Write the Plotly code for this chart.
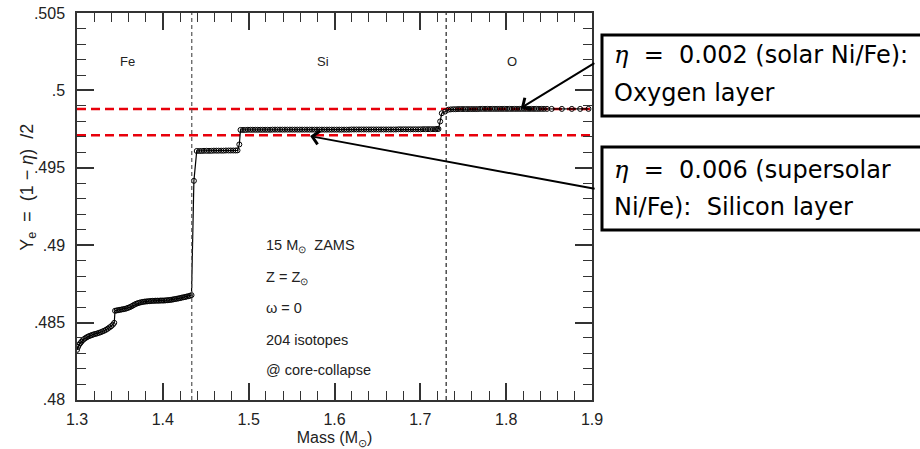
import plotly.graph_objects as go

# ---------------- data ----------------
mass_fe = [1.3000, 1.3012, 1.3024, 1.3038, 1.3052, 1.3068, 1.3084, 1.3100, 1.3118, 1.3136,
           1.3155, 1.3174, 1.3193, 1.3213, 1.3233, 1.3254, 1.3275, 1.3296, 1.3317, 1.3338,
           1.3358, 1.3378, 1.3398, 1.3418, 1.3434, 1.3443, 1.3462, 1.3481, 1.3500, 1.3519,
           1.3538, 1.3557, 1.3576, 1.3595, 1.3614, 1.3633, 1.3652, 1.3671, 1.3690, 1.3709,
           1.3728, 1.3747, 1.3766, 1.3785, 1.3804, 1.3823, 1.3842, 1.3861, 1.3880, 1.3899,
           1.3918, 1.3937, 1.3956, 1.3975, 1.3994, 1.4013, 1.4032, 1.4051, 1.4070, 1.4089,
           1.4108, 1.4127, 1.4146, 1.4165, 1.4184, 1.4203, 1.4222, 1.4241, 1.4260, 1.4279,
           1.4298, 1.4316, 1.4334]
ye_fe = [0.48323, 0.48342, 0.48356, 0.48366, 0.48376, 0.48386, 0.48394, 0.48400, 0.48406, 0.48411,
         0.48415, 0.48419, 0.48423, 0.48426, 0.48429, 0.48433, 0.48437, 0.48442, 0.48447, 0.48453,
         0.48460, 0.48468, 0.48476, 0.48486, 0.48498, 0.48576, 0.48578, 0.48580, 0.48582, 0.48584,
         0.48586, 0.48588, 0.48591, 0.48595, 0.48599, 0.48604, 0.48610, 0.48616, 0.48621, 0.48625,
         0.48628, 0.48631, 0.48633, 0.48635, 0.48636, 0.48637, 0.48638, 0.48639, 0.48640, 0.48640,
         0.48641, 0.48641, 0.48641, 0.48642, 0.48642, 0.48642, 0.48643, 0.48644, 0.48645, 0.48646,
         0.48648, 0.48650, 0.48652, 0.48654, 0.48656, 0.48658, 0.48661, 0.48663, 0.48665, 0.48668,
         0.48670, 0.48673, 0.48677]

mass_inner_si = [1.4362, 1.4395, 1.4425, 1.4452, 1.4480, 1.4510, 1.4538, 1.4566, 1.4595, 1.4623,
                 1.4650, 1.4680, 1.4708, 1.4735, 1.4765, 1.4792, 1.4820, 1.4848, 1.4870, 1.4891]
ye_inner_si = [0.49416, 0.49609, 0.49609, 0.49609, 0.49610, 0.49610, 0.49610, 0.49610, 0.49611, 0.49611,
               0.49611, 0.49611, 0.49611, 0.49612, 0.49612, 0.49612, 0.49612, 0.49612, 0.49613, 0.49651]

mass_si = [1.4905, 1.4934, 1.4962, 1.4991, 1.5020, 1.5048, 1.5077, 1.5106, 1.5135, 1.5163,
           1.5192, 1.5221, 1.5250, 1.5278, 1.5307, 1.5336, 1.5365, 1.5393, 1.5422, 1.5451,
           1.5480, 1.5508, 1.5537, 1.5566, 1.5595, 1.5623, 1.5652, 1.5681, 1.5710, 1.5738,
           1.5767, 1.5796, 1.5825, 1.5853, 1.5882, 1.5911, 1.5940, 1.5968, 1.5997, 1.6026,
           1.6055, 1.6083, 1.6112, 1.6141, 1.6170, 1.6198, 1.6227, 1.6256, 1.6285, 1.6313,
           1.6342, 1.6371, 1.6400, 1.6428, 1.6457, 1.6486, 1.6515, 1.6543, 1.6572, 1.6601,
           1.6630, 1.6658, 1.6687, 1.6716, 1.6745, 1.6773, 1.6802, 1.6831, 1.6860, 1.6888,
           1.6917, 1.6946, 1.6975, 1.7003, 1.7032, 1.7061, 1.7090, 1.7118, 1.7147, 1.7176,
           1.7195, 1.7211]
ye_si = [0.49745, 0.49745, 0.49745, 0.49746, 0.49746, 0.49746, 0.49746, 0.49746, 0.49746, 0.49746,
         0.49746, 0.49746, 0.49746, 0.49747, 0.49747, 0.49747, 0.49747, 0.49747, 0.49747, 0.49747,
         0.49747, 0.49747, 0.49747, 0.49747, 0.49747, 0.49747, 0.49747, 0.49747, 0.49747, 0.49747,
         0.49747, 0.49747, 0.49747, 0.49747, 0.49747, 0.49747, 0.49747, 0.49747, 0.49747, 0.49747,
         0.49747, 0.49747, 0.49747, 0.49747, 0.49747, 0.49748, 0.49748, 0.49748, 0.49748, 0.49748,
         0.49748, 0.49748, 0.49748, 0.49748, 0.49748, 0.49748, 0.49748, 0.49748, 0.49748, 0.49748,
         0.49748, 0.49748, 0.49748, 0.49748, 0.49749, 0.49749, 0.49749, 0.49749, 0.49749, 0.49749,
         0.49749, 0.49749, 0.49749, 0.49749, 0.49750, 0.49750, 0.49750, 0.49750, 0.49750, 0.49750,
         0.49751, 0.49751]

mass_o = [1.7231, 1.7250, 1.7289, 1.7327, 1.7355, 1.7384, 1.7412, 1.7440, 1.7469, 1.7497,
          1.7526, 1.7554, 1.7583, 1.7611, 1.7640, 1.7668, 1.7697, 1.7725, 1.7754, 1.7782,
          1.7811, 1.7839, 1.7868, 1.7896, 1.7925, 1.7953, 1.7982, 1.8010, 1.8039, 1.8067,
          1.8096, 1.8124, 1.8153, 1.8181, 1.8210, 1.8238, 1.8267, 1.8295, 1.8324, 1.8352,
          1.8381, 1.8410, 1.8440, 1.8475, 1.8530, 1.8649, 1.8765, 1.8862, 1.8959]
ye_o = [0.49800, 0.49853, 0.49864, 0.49876, 0.49878, 0.49879, 0.49879, 0.49880, 0.49880, 0.49880,
        0.49880, 0.49880, 0.49880, 0.49880, 0.49880, 0.49880, 0.49881, 0.49881, 0.49881, 0.49881,
        0.49881, 0.49881, 0.49881, 0.49881, 0.49881, 0.49881, 0.49881, 0.49881, 0.49881, 0.49881,
        0.49881, 0.49881, 0.49881, 0.49881, 0.49881, 0.49881, 0.49881, 0.49881, 0.49881, 0.49881,
        0.49881, 0.49881, 0.49881, 0.49881, 0.49881, 0.49881, 0.49881, 0.49881, 0.49881]

eta_ye_levels = [0.4988, 0.4971]          # Ye for eta = 0.002 and eta = 0.006
layer_boundaries = [1.4337, 1.7301]       # Fe/Si and Si/O boundaries
layer_names = ["Fe", "Si", "O"]
layer_label_mass = [1.359, 1.587, 1.8066]

x_ticks = [1.3, 1.4, 1.5, 1.6, 1.7, 1.8, 1.9]
x_ticktext = ["1.3", "1.4", "1.5", "1.6", "1.7", "1.8", "1.9"]
y_ticks = [0.48, 0.485, 0.49, 0.495, 0.5, 0.505]
y_ticktext = [".48", ".485", ".49", ".495", ".5", ".505"]

info_lines = ["15 M<sub>⊙</sub>  ZAMS", "Z = Z<sub>⊙</sub>", "ω = 0", "204 isotopes", "@ core-collapse"]
info_ye = [0.48994, 0.48785, 0.48591, 0.48390, 0.48190]

# ---------------- figure ----------------
mass = mass_fe + mass_inner_si + mass_si + mass_o
ye = ye_fe + ye_inner_si + ye_si + ye_o

FONT = "Liberation Sans, Arial, Helvetica, sans-serif"
BOXFONT = "DejaVu Sans, sans-serif"

fig = go.Figure()

for lvl in eta_ye_levels:
    fig.add_trace(go.Scatter(x=[1.3, 1.9], y=[lvl, lvl], mode="lines",
                             line=dict(color="#e8000b", width=2.5, dash="9px,5px"),
                             hoverinfo="skip", showlegend=False))

fig.add_trace(go.Scatter(x=mass, y=ye, mode="lines+markers",
                         line=dict(color="black", width=1.2),
                         marker=dict(symbol="circle-open", size=5, color="black",
                                     line=dict(width=1, color="black")),
                         showlegend=False))

for i, xb in enumerate(layer_boundaries):
    fig.add_shape(type="line", x0=xb, x1=xb, y0=0, y1=1, xref="x", yref="paper",
                  line=dict(color="#555555" if i == 0 else "#222222", width=1.2, dash="4px,3px"),
                  layer="above")

for name, xm in zip(layer_names, layer_label_mass):
    fig.add_annotation(x=xm, y=0.50187, text=name, showarrow=False,
                       font=dict(family=FONT, size=13, color="#222"))

for txt, yv in zip(info_lines, info_ye):
    fig.add_annotation(x=1.5180, y=yv, text=txt, showarrow=False, xanchor="left",
                       font=dict(family=FONT, size=14.5, color="#222"))

# y-axis title (placed as rotated text, like the reference)
fig.add_annotation(x=-0.122, y=0.55, xref="paper", yref="paper", showarrow=False,
                   text="Y<sub>e</sub>  =  (1 − <i>η</i>)  /2", textangle=-90,
                   font=dict(family=FONT, size=18, color="#222"))

# boxes (extend beyond the right edge of the figure)
box_specs = [(0.7339, 0.9432), (0.4393, 0.6537)]
for y0, y1 in box_specs:
    fig.add_shape(type="rect", xref="paper", yref="paper", x0=1.0194, x1=1.80,
                  y0=y0, y1=y1, line=dict(color="black", width=3), fillcolor="white",
                  layer="above")

ETA = '<span style="font-family:DejaVu Serif"><i>η</i></span>'
box_lines = [(ETA + "  =  0.002 (solar Ni/Fe):", 0.8915),
             ("Oxygen layer", 0.7933),
             (ETA + "  =  0.006 (supersolar", 0.5943),
             ("Ni/Fe):  Silicon layer", 0.4987)]
for txt, yp in box_lines:
    fig.add_annotation(x=1.0388, y=yp, xref="paper", yref="paper", text=txt,
                       showarrow=False, xanchor="left", yanchor="middle",
                       font=dict(family=BOXFONT, size=24, color="black"))

# arrows
arrow_specs = [(1.8171, 0.49886, 75, -46), (1.5716, 0.49705, 286, 53)]
for xh, yh, axp, ayp in arrow_specs:
    fig.add_annotation(x=xh, y=yh, text="", showarrow=True, ax=axp, ay=ayp,
                       arrowhead=4, arrowsize=1.3, arrowwidth=2, arrowcolor="black")

fig.update_layout(
    width=920, height=449,
    margin=dict(l=77, r=328, t=13, b=49, autoexpand=False),
    paper_bgcolor="white", plot_bgcolor="white",
    font=dict(family=FONT, size=15, color="#222"),
)
fig.update_xaxes(range=[1.3, 1.9], tickvals=x_ticks, ticktext=x_ticktext,
                 ticks="inside", ticklen=17, tickwidth=1.5, tickcolor="#333",
                 minor=dict(ticks="inside", ticklen=9, tickwidth=1.2, tickcolor="#333",
                            dtick=0.02, tick0=1.3, showgrid=False),
                 showline=True, linewidth=1.5, linecolor="#333", mirror="allticks",
                 showgrid=False, zeroline=False, ticklabelstandoff=4,
                 tickfont=dict(size=16),
                 title=dict(text="Mass (M<sub>⊙</sub>)", font=dict(size=16), standoff=5))
fig.update_yaxes(range=[0.47999, 0.50501], tickvals=y_ticks, ticktext=y_ticktext,
                 ticks="inside", ticklen=17, tickwidth=1.5, tickcolor="#333",
                 minor=dict(ticks="inside", ticklen=9, tickwidth=1.2, tickcolor="#333",
                            dtick=0.001, tick0=0.48, showgrid=False),
                 showline=True, linewidth=1.5, linecolor="#333", mirror="allticks",
                 showgrid=False, zeroline=False, ticklabelstandoff=7,
                 tickfont=dict(size=16))

fig.write_html("out.html", config={"displayModeBar": False},
               post_script="document.body.style.margin='0';")
